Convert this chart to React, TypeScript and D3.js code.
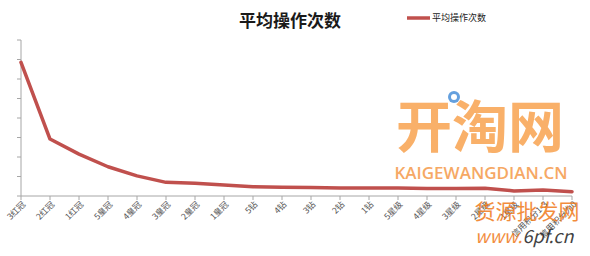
import React from "react";
import * as d3 from "d3";

// Seller credit levels along the x axis
const categories = [
  "3红冠", "2红冠", "1红冠", "5皇冠", "4皇冠", "3皇冠", "2皇冠", "1皇冠",
  "5钻", "4钻", "3钻", "2钻", "1钻", "5星级", "4星级", "3星级", "2星级", "1星级",
  "信用积分1-3", "信用积分为0",
];

// Average number of operations per level
const avgOps = [
  6.85, 2.92, 2.15, 1.5, 1.03, 0.7, 0.65, 0.56, 0.48, 0.45,
  0.43, 0.41, 0.41, 0.41, 0.39, 0.39, 0.4, 0.26, 0.31, 0.22,
];

const yTicks = [0, 1, 2, 3, 4, 5, 6, 7, 8];

const title = "平均操作次数";
const seriesName = "平均操作次数";

const W = 590;
const H = 256;
const LINE_COLOR = "#c0504d";
const AXIS_COLOR = "#a6a6a6";
const FONT = "'Noto Sans CJK SC', 'Noto Sans', sans-serif";

export default function App() {
  const x = d3
    .scalePoint<string>()
    .domain(categories)
    .range([21, 572]);
  const y = d3.scaleLinear().domain([0, 8]).range([196, 40]);

  const line = d3
    .line<number>()
    .x((_, i) => x(categories[i]) as number)
    .y((d) => y(d));

  const x0 = x.range()[0];
  const x1 = x.range()[1];
  const yBase = y(0);

  return (
    <svg
      width={W}
      height={H}
      style={{ position: "absolute", left: 0, top: 0, background: "#fff" }}
      fontFamily={FONT}
    >
      {/* title */}
      <text x={290} y={27} textAnchor="middle" fontSize={17} fontWeight="bold" fill="#1a1a1a">
        {title}
      </text>

      {/* legend */}
      <line x1={407} x2={430} y1={18} y2={18} stroke={LINE_COLOR} strokeWidth={3.5} />
      <text x={432} y={21} fontSize={9} fill="#222">{seriesName}</text>

      {/* y axis */}
      <line x1={x0} x2={x0} y1={y(8)} y2={yBase} stroke={AXIS_COLOR} strokeWidth={1} />
      {yTicks.map((t) => (
        <line key={t} x1={x0 - 4} x2={x0} y1={y(t)} y2={y(t)} stroke={AXIS_COLOR} />
      ))}

      {/* x axis */}
      <line x1={x0} x2={x1} y1={yBase} y2={yBase} stroke={AXIS_COLOR} strokeWidth={1} />
      {categories.map((c) => (
        <line key={c} x1={x(c)} x2={x(c)} y1={yBase} y2={yBase + 4} stroke={AXIS_COLOR} />
      ))}
      {categories.map((c) => {
        const cx = (x(c) as number) + 5;
        const cy = yBase + 9;
        return (
          <text
            key={c}
            x={cx}
            y={cy}
            fontSize={8.5}
            fill="#555"
            textAnchor="end"
            transform={`rotate(-45 ${cx} ${cy})`}
          >
            {c}
          </text>
        );
      })}

      {/* series */}
      <path
        d={line(avgOps) ?? ""}
        fill="none"
        stroke={LINE_COLOR}
        strokeWidth={3.5}
        strokeLinejoin="round"
        strokeLinecap="round"
      />

      {/* site marks */}
      <g opacity={0.85}>
        <text x={480} y={147} textAnchor="middle" fontSize={56} fontWeight="bold" fill="#f8a350">
          开淘网
        </text>
        <circle cx={454} cy={97} r={6} fill="#4a90d9" />
        <circle cx={454} cy={97} r={3} fill="#fff" />
        <text x={481} y={179} textAnchor="middle" fontSize={17} fontWeight={600} fill="#f59a4a" fontFamily="'Open Sans', sans-serif">
          KAIGEWANGDIAN.CN
        </text>
        <text x={527} y={219} textAnchor="middle" fontSize={21} fill="#f07a1a">
          货源批发网
        </text>
        <text x={475} y={243} fontSize={18} fill="#f07a1a" fontStyle="italic">
          www.
          <tspan fill="#222">6pf.cn</tspan>
        </text>
      </g>
    </svg>
  );
}
